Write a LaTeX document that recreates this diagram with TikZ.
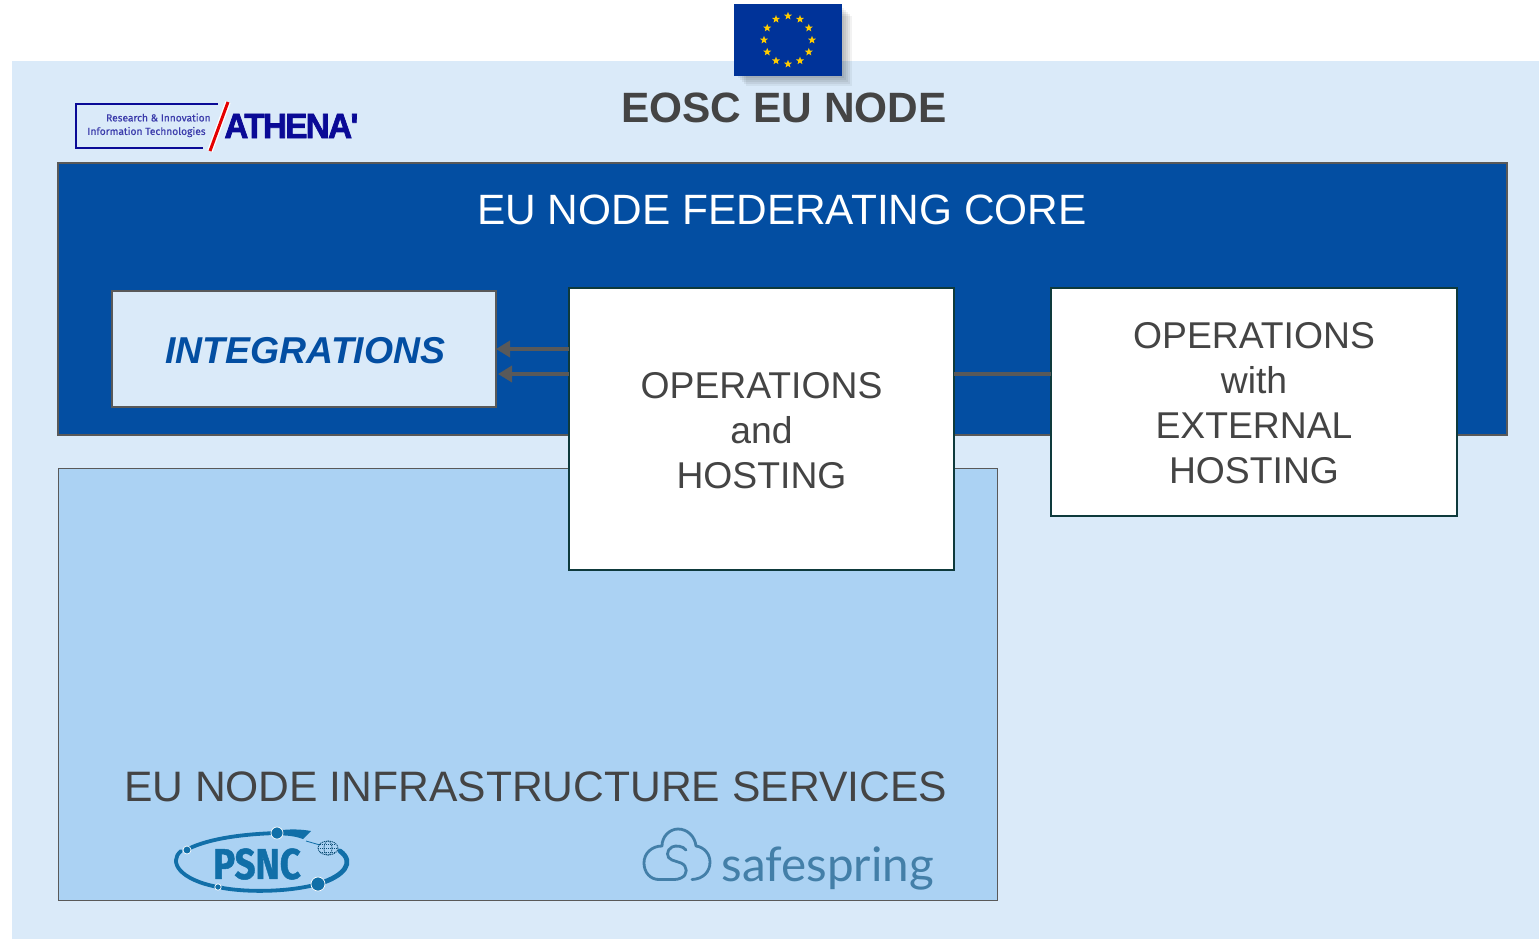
\documentclass[tikz,border=0pt]{standalone}
\usepackage{fontspec}
\setmainfont{Liberation Sans}
\newfontfamily\logofont{Fira Sans}
\newfontfamily\springfont{Lato}
\newfontfamily\athfont[FakeBold=2.2,LetterSpace=-5]{Liberation Sans Bold}
\newfontfamily\psncfont[FakeBold=1.2]{Fira Sans Bold}
\newfontfamily\athsmall[FakeBold=.4]{Fira Sans}
\usetikzlibrary{shapes.geometric,arrows.meta,calc}
\definecolor{pagebg}{HTML}{DAEAF9}
\definecolor{coreblue}{HTML}{034EA2}
\definecolor{infrablue}{HTML}{ABD2F3}
\definecolor{graytext}{HTML}{444444}
\definecolor{edgegray}{HTML}{595959}
\definecolor{tealedge}{HTML}{0E3A3C}
\definecolor{flagblue}{HTML}{003399}
\definecolor{starcol}{HTML}{FFCC00}
\definecolor{athblue}{HTML}{0A0A96}
\definecolor{psncblue}{HTML}{116FA8}
\definecolor{springblue}{HTML}{437FA8}
\tikzset{
  x=0.5pt,y=-0.5pt,
  panel/.style={draw=edgegray,line width=0.4pt,anchor=north west,inner sep=0,outer sep=0},
  whitebox/.style={draw=tealedge,line width=1.35pt,fill=white,anchor=north west,inner sep=0,outer sep=0,
     text=graytext,font=\fontsize{18.65}{22.5}\selectfont,align=center},
  connector/.style={draw=edgegray,line width=1.9pt},
  arrowconn/.style={connector,-{Triangle[length=7pt,width=8pt]}},
  euStar/.style={star,star points=5,star point ratio=2.4,fill=starcol,inner sep=0,minimum size=4.2pt},
  psncline/.style={draw=psncblue,line width=1.7pt,line cap=round},
  psncdot/.style={circle,fill=psncblue,draw=white,line width=.35pt,inner sep=0},
  springline/.style={draw=springblue,line width=1.4pt,line cap=round,line join=round},
  pxbox/.style 2 args={minimum width=#1*0.5pt,minimum height=#2*0.5pt}
}
\begin{document}
\begin{tikzpicture}
\useasboundingbox (0,0) rectangle (1539,939);
\fill[white] (0,0) rectangle (1539,939);
\fill[pagebg] (12,61) rectangle (1539,939);

% flag
\foreach \o/\a in {2/.04,4/.05,6/.06,8/.06,10/.06,12/.05}{
  \fill[black,opacity=\a] (734+\o,4+\o) rectangle (842+\o-2,76+\o-2);
}
\node[anchor=north west,fill=flagblue,inner sep=0,pxbox={108}{72}] (flag) at (734,4) {};
\foreach \i in {0,30,...,330}{
  \node[euStar] (star\i) at ($(788,40)+(\i:24)$) {};
}

% title
\node[font=\fontsize{21.2}{26}\selectfont\bfseries,text=graytext,inner sep=0] (title) at (784,107.5) {EOSC EU NODE};

% panels
\node[panel,fill=infrablue,pxbox={939}{432}] (infra) at (58,468) {};
\node[panel,fill=coreblue,line width=.7pt,pxbox={1449}{272}] (core) at (58,163) {};
\node[font=\fontsize{21.2}{26}\selectfont,text=white,inner sep=0] (corelabel) at (782,209.5) {EU NODE FEDERATING CORE};
\node[font=\fontsize{21.3}{26}\selectfont,text=graytext,inner sep=0] (infralabel) at (535.5,786.5) {EU NODE INFRASTRUCTURE SERVICES};

% boxes
\node[anchor=north west,draw=edgegray,line width=1.4pt,fill=pagebg,inner sep=0,outer sep=0,pxbox={384}{116}] (integ) at (112,291) {};
\node[text=coreblue,font=\fontsize{18.7}{23}\selectfont\bfseries\itshape,inner sep=0] (integlabel) at (305.5,350.5) {INTEGRATIONS};
\node[whitebox,pxbox={385}{282}] (ops) at (569,288) {\rule{0pt}{14.6pt}OPERATIONS\\and\\HOSTING};
\node[whitebox,pxbox={406}{228}] (ext) at (1051,288) {\rule{0pt}{14.6pt}OPERATIONS\\with\\EXTERNAL\\HOSTING};

% connectors
\coordinate (y1) at (0,349);
\coordinate (y2) at (0,374);
\draw[arrowconn] (ops.west |- y1) -- (integ.east |- y1);
\draw[arrowconn] (ops.west |- y2) -- ([xshift=1pt]integ.east |- y2);
\draw[connector] (ops.east |- y2) -- (ext.west |- y2);

% Athena logo
\draw[athblue,line width=1.2pt] (218,104) -- (76,104) -- (76,148) -- (203,148);
\node[anchor=east,font=\athsmall\fontsize{5.1}{6}\selectfont,text=athblue!80,inner sep=0] (ath1) at (211,117.5) {Research \& Innovation};
\node[anchor=east,font=\athsmall\fontsize{5.1}{6}\selectfont,text=athblue!80,inner sep=0] (ath2) at (206,132) {Information Technologies};
\draw[white,line width=2.8pt] (228,102) -- (210,151);
\draw[red!90!black,line width=1.5pt] (228,102) -- (210,151);
\node[anchor=west,inner sep=0,text=athblue,font=\athfont\fontsize{17.5}{20}\selectfont,xscale=.95] (ath3) at (224,126) {ATHENA'};

% PSNC logo
\draw[psncline,line width=1.9pt] (188,849) .. controls (210,838) and (245,834) .. (277,833);
\fill[psncblue] (277,830.5) .. controls (290,829) and (300,829) .. (311,831) -- (303,839) .. controls (295,836) and (285,835) .. (277,835.5) -- cycle;
\draw[psncline,line width=1.9pt] (181,851) .. controls (168,862) and (180,880) .. (218,887) .. controls (245,893) and (290,892) .. (318,884);
\draw[psncline,line width=2.4pt] (318,884) .. controls (345,876) and (355,862) .. (340,851);
\node[psncdot,minimum size=4pt] (pd1) at (187,850) {};
\node[psncdot,minimum size=6pt] (pd2) at (277,833) {};
\node[psncdot,minimum size=3.2pt] (pd3) at (218,887) {};
\node[psncdot,minimum size=7pt] (pd4) at (318,884) {};
\draw[psncblue,line width=.4pt] (306,841) -- (320,845);
\begin{scope}[psncblue!70!black,line width=.4pt,dash pattern=on .6pt off .4pt]
  \draw (328,848) ellipse (10 and 7);
  \draw (328,848) ellipse (4 and 7);
  \draw (318,848) -- (338,848);
  \draw (320,844) -- (336,844);
  \draw (320,852) -- (336,852);
\end{scope}
\node[font=\psncfont\fontsize{21.5}{24}\selectfont,text=psncblue,inner sep=0,xscale=.85] (psnc) at (257,864) {PSNC};

% Safespring logo
\draw[springline] (672,879.5) -- (660,879.5) .. controls (650,880) and (644,872) .. (644,863)
  .. controls (644,853) and (652,846) .. (662,846) .. controls (662,836) and (670,829) .. (678,829)
  .. controls (688,829) and (695,837) .. (696,846) .. controls (704,847) and (710,854) .. (710,862)
  .. controls (710,872) and (703,879) .. (692,879.5);
\draw[springline] (686,850) .. controls (683,846) and (676,845) .. (672,847)
  .. controls (666,850) and (666,858) .. (672,860) -- (681,863) .. controls (688,866) and (688,875) .. (681,878)
  .. controls (677,880) and (672,879.5) .. (668,879.5);
\node[anchor=base west,font=\springfont\fontsize{23.8}{30}\selectfont,text=springblue,inner sep=0] (spring) at (721,881) {safespring};
\end{tikzpicture}
\end{document}
